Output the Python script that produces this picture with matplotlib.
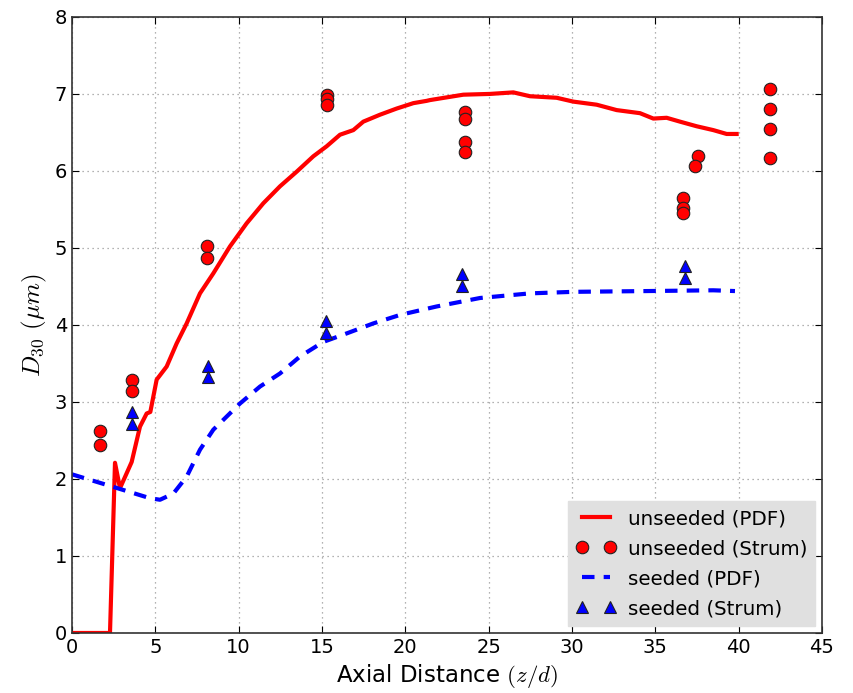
import numpy as np
import matplotlib; matplotlib.use("Agg")
import matplotlib.pyplot as plt

plt.rcParams["mathtext.fontset"] = "cm"
plt.rcParams["font.family"] = "DejaVu Sans"

# ── unseeded PDF curve ───────────────────────────────────────────────
unseed_pdf_x = [0.0, 2.28, 2.58, 2.88, 3.58, 4.08, 4.48, 4.7, 5.08, 5.68, 6.28, 6.88,
                7.68, 8.48, 9.48, 10.48, 11.48, 12.48, 13.48, 14.48, 15.28, 16.08,
                16.88, 17.48, 18.48, 19.48, 20.48, 21.28, 21.48, 23.48, 25.08, 26.48,
                27.48, 29.08, 30.08, 31.48, 32.68, 34.08, 34.88, 35.68, 36.48, 37.48,
                38.48, 39.28, 39.88]
unseed_pdf_y = [0.0, 0.0, 2.21, 1.88, 2.22, 2.68, 2.85, 2.87, 3.29, 3.46, 3.76, 4.02,
                4.41, 4.67, 5.02, 5.32, 5.58, 5.80, 5.99, 6.19, 6.32, 6.47,
                6.53, 6.64, 6.73, 6.81, 6.88, 6.91, 6.92, 6.99, 7.00, 7.02,
                6.97, 6.95, 6.90, 6.86, 6.79, 6.75, 6.68, 6.69, 6.64, 6.58,
                6.53, 6.48, 6.48]

# ── seeded PDF curve ─────────────────────────────────────────────────
seed_pdf_x = [0.0, 2.28, 2.88, 4.68, 5.28, 6.08, 6.88, 7.68, 8.48, 10.08, 11.28,
              12.48, 13.68, 15.08, 16.48, 18.08, 19.68, 21.28, 21.88, 24.48, 27.48,
              30.08, 34.48, 38.48, 39.78]
seed_pdf_y = [2.06, 1.91, 1.87, 1.75, 1.73, 1.81, 2.03, 2.38, 2.64, 2.98, 3.20,
              3.37, 3.59, 3.78, 3.89, 4.02, 4.13, 4.21, 4.24, 4.35, 4.41,
              4.43, 4.44, 4.45, 4.44]

# ── Strum data points ───────────────────────────────────────────────
unseed_strum_x = [1.68, 1.68, 3.6, 3.6, 8.1, 8.1, 15.3, 15.3, 15.3,
                  23.6, 23.6, 23.6, 23.6, 36.65, 36.65, 36.65, 37.55, 37.4,
                  41.9, 41.9, 41.9, 41.9]
unseed_strum_y = [2.62, 2.44, 3.29, 3.14, 5.02, 4.87, 6.99, 6.94, 6.85,
                  6.76, 6.68, 6.37, 6.24, 5.65, 5.52, 5.45, 6.19, 6.06,
                  7.06, 6.81, 6.55, 6.17]
seed_strum_x = [3.6, 3.6, 8.15, 8.15, 15.25, 15.25, 23.4, 23.4, 36.8, 36.8]
seed_strum_y = [2.87, 2.72, 3.47, 3.32, 4.05, 3.90, 4.66, 4.50, 4.77, 4.61]

fig = plt.figure(figsize=(8.54, 6.93), dpi=100)
ax = fig.add_axes([0.0843, 0.0866, 0.8782, 0.889])

ax.plot(unseed_pdf_x, unseed_pdf_y, "-", color="red", lw=3, label="unseeded (PDF)")
ax.plot(unseed_strum_x, unseed_strum_y, "o", color="red", mec="#222222", mew=0.8,
        ms=9, label="unseeded (Strum)")
ax.plot(seed_pdf_x, seed_pdf_y, "--", color="blue", lw=3, dashes=(3, 2.2),
        label="seeded (PDF)")
ax.plot(seed_strum_x, seed_strum_y, "^", color="blue", mec="#222222", mew=0.8,
        ms=9, label="seeded (Strum)")

ax.set_xlim(0, 45)
ax.set_ylim(0, 8)
ax.set_xticks(range(0, 46, 5))
ax.set_yticks(range(0, 9))
ax.tick_params(labelsize=14, direction="in", top=True, right=True, length=5)
ax.grid(True, color="#999999", linestyle=(0, (1, 3)), linewidth=0.9)
ax.set_xlabel("Axial Distance $(z/d)$", fontsize=16.5)
ax.set_ylabel("$D_{30}$ $(\\mu m)$", fontsize=18)
for s in ax.spines.values():
    s.set_linewidth(1.2)
    s.set_color("#333333")

leg = ax.legend(loc="lower right", numpoints=2, fontsize=14.3, frameon=True,
                fancybox=False, framealpha=1, borderpad=0.4, handlelength=2.0,
                handletextpad=0.6, borderaxespad=0.35, labelspacing=0.55)
leg.get_frame().set_facecolor("#e0e0e0")
leg.get_frame().set_edgecolor("#e0e0e0")

fig.savefig("out.png", dpi=100)
